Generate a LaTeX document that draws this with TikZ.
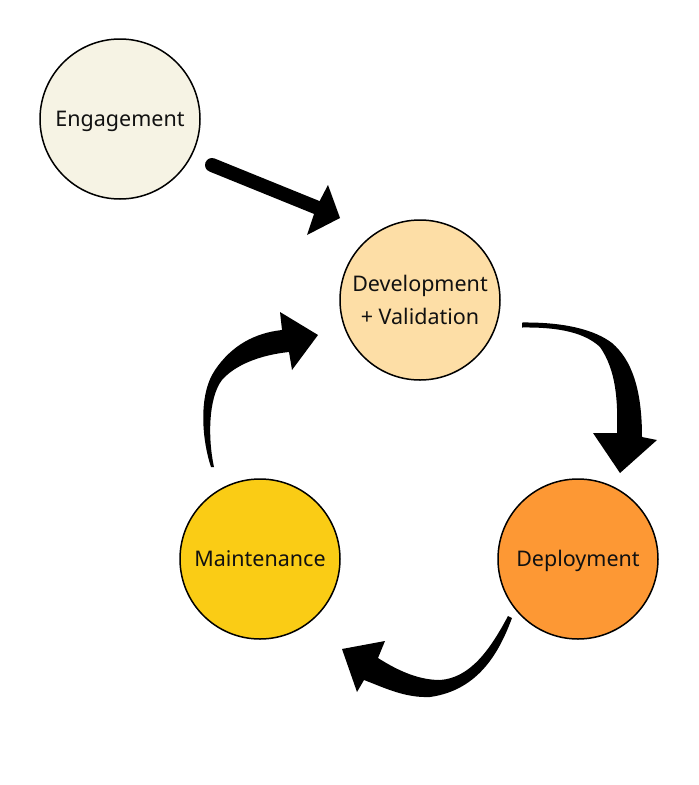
\documentclass[tikz,border=0pt]{standalone}
\usepackage{fontspec}
\setmainfont{Noto Sans}
\definecolor{cEng}{HTML}{F6F3E4}
\definecolor{cDev}{HTML}{FDDEA6}
\definecolor{cDep}{HTML}{FD9834}
\definecolor{cMai}{HTML}{FACC15}
\definecolor{ink}{HTML}{111111}
\begin{document}
\begin{tikzpicture}[x=1pt,y=-1pt,
  stage/.style={circle,draw=black,line width=1.5pt,minimum size=160pt,inner sep=0pt,
    text=ink,align=center,font=\fontsize{21.5}{32.5}\selectfont},
  oneline/.style={text height=15.4pt,text depth=0pt},
  arrowfill/.style={fill=black,draw=none}]
\useasboundingbox (0,0) rectangle (699,785);
\node[stage,oneline,fill=cEng] (eng) at (120,119) {Engagement};
\node[stage,fill=cDev] (dev) at (420,300) {Development\\+ Validation};
\node[stage,oneline,fill=cDep] (dep) at (578,559) {Deployment};
\node[stage,oneline,fill=cMai] (mai) at (260,559) {Maintenance};
% Engagement -> Development
\coordinate (a1s) at (212,165);
\coordinate (a1e) at (318,208);
\draw[line width=14pt,line cap=round] (a1s) -- (a1e);
\fill[arrowfill] (328,185) -- (340,218) -- (307,235) -- (316,208) -- cycle;
% Development -> Deployment
\fill[arrowfill] (522,322.5) .. controls (565,322) and (595,330) .. (612,343)
  .. controls (632,360) and (642,390) .. (642,437)
  -- (657,440) -- (620,473) -- (593,433) -- (617,433)
  .. controls (618,400) and (616,370) .. (600,347)
  .. controls (585,333) and (560,327) .. (522,327.5) -- cycle;
% Deployment -> Maintenance
\fill[arrowfill] (508,616) -- (512,618) .. controls (500,650) and (480,690) .. (430,697)
  .. controls (405,698) and (385,688) .. (364,680)
  -- (357,692) -- (342,649) -- (385,641) -- (378,658)
  .. controls (400,672) and (420,680) .. (440,680)
  .. controls (470,678) and (490,650) .. (508,616) -- cycle;
% Maintenance -> Development
\fill[arrowfill] (211,467) .. controls (202,440) and (198,395) .. (215,370)
  .. controls (232,345) and (255,333) .. (282,330)
  -- (280,312) -- (318,335) -- (292,370) -- (289,352)
  .. controls (260,355) and (235,365) .. (222,380)
  .. controls (208,398) and (208,440) .. (214,467) -- cycle;
\end{tikzpicture}
\end{document}
